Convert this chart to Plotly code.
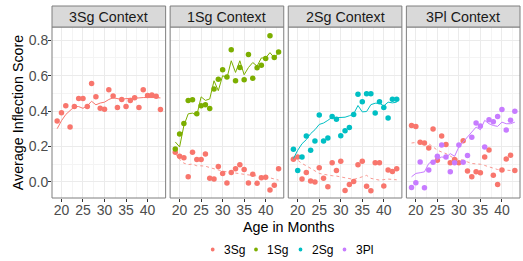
import plotly.graph_objects as go
from plotly.subplots import make_subplots

months = list(range(19, 44))
contexts = ["3Sg Context", "1Sg Context", "2Sg Context", "3Pl Context"]
series_names = ["3Sg", "1Sg", "2Sg", "3Pl"]
colors = {"3Sg": "#F8766D", "1Sg": "#7CAE00", "2Sg": "#00BFC4", "3Pl": "#C77CFF"}

# 3Sg context
ctx3sg_3sg_pts = [0.343, 0.39, 0.43, 0.31, 0.425, 0.47, 0.47, 0.425, 0.555, 0.48, 0.415, 0.41, 0.52,
                  0.485, 0.42, 0.465, 0.425, 0.46, 0.475, 0.42, 0.52, 0.487, 0.49, 0.483, 0.408]
ctx3sg_3sg_fit = [0.30, 0.345, 0.38, 0.40, 0.425, 0.425, 0.415, 0.43, 0.455, 0.435, 0.445, 0.45, 0.465,
                  0.475, 0.47, 0.465, 0.47, 0.47, 0.472, 0.474, 0.476, 0.477, 0.478, 0.476, 0.474]

# 1Sg context
ctx1sg_1sg_pts = [0.185, 0.27, 0.33, 0.46, 0.463, 0.384, 0.43, 0.435, 0.414, 0.525, 0.579, 0.633, 0.592,
                  0.746, 0.571, 0.646, 0.577, 0.72, 0.585, 0.644, 0.658, 0.697, 0.826, 0.703, 0.733]
ctx1sg_1sg_fit = [0.225, 0.197, 0.318, 0.384, 0.388, 0.375, 0.48, 0.46, 0.468, 0.571, 0.515, 0.60, 0.586,
                  0.684, 0.618, 0.684, 0.605, 0.646, 0.674, 0.654, 0.70, 0.70, 0.73, 0.70, 0.73]
ctx1sg_3sg_pts = [0.167, 0.144, 0.135, 0.028, 0.167, 0.126, 0.126, 0.157, 0.02, 0.015, 0.086, 0.047, -0.007,
                  0.052, 0.073, 0.096, 0.069, -0.007, 0.043, -0.009, 0.022, 0.026, -0.047, -0.02, 0.073]
ctx1sg_3sg_fit = [0.16, 0.126, 0.105, 0.097, 0.10, 0.09, 0.09, 0.088, 0.08, 0.072, 0.065, 0.06, 0.056,
                  0.052, 0.047, 0.044, 0.04, 0.037, 0.035, 0.033, 0.031, 0.028, 0.022, 0.016, 0.009]

# 2Sg context
ctx2sg_2sg_pts = [0.184, 0.064, 0.14, 0.259, 0.178, 0.23, 0.377, 0.23, 0.247, 0.369, 0.354, 0.26, 0.289,
                  0.307, 0.38, 0.495, 0.452, 0.497, 0.498, 0.388, 0.452, 0.42, 0.36, 0.467, 0.467]
ctx2sg_2sg_fit = [0.131, 0.178, 0.215, 0.238, 0.272, 0.294, 0.324, 0.332, 0.347, 0.365, 0.362, 0.362, 0.365,
                  0.373, 0.384, 0.431, 0.395, 0.397, 0.436, 0.444, 0.444, 0.429, 0.45, 0.446, 0.45]
ctx2sg_3sg_pts = [0.127, 0.14, 0.015, 0.052, 0.004, -0.002, 0.079, 0.02, -0.028, 0.107, 0.064, 0.116, -0.049,
                  -0.015, 0.002, 0.096, 0.116, -0.026, -0.051, 0.107, 0.107, -0.024, 0.066, 0.058, 0.073]
ctx2sg_3sg_fit = [0.14, 0.12, 0.103, 0.09, 0.075, 0.06, 0.047, 0.042, 0.037, 0.034, 0.032, 0.028, 0.024,
                  0.018, 0.013, 0.02, 0.028, 0.036, 0.019, 0.014, 0.009, 0.012, 0.015, 0.013, 0.011]

# 3Pl context
ctx3pl_3pl_pts = [-0.032, -0.006, 0.112, -0.034, 0.066, 0.11, 0.144, 0.208, 0.14, 0.056, 0.107, 0.208, 0.11,
                  0.148, 0.251, 0.332, 0.315, 0.197, 0.35, 0.339, 0.369, 0.408, 0.292, 0.348, 0.399]
ctx3pl_3pl_fit = [0.028, 0.047, 0.051, 0.056, 0.103, 0.118, 0.126, 0.14, 0.137, 0.159, 0.144, 0.197, 0.225,
                  0.253, 0.275, 0.309, 0.294, 0.347, 0.328, 0.318, 0.313, 0.337, 0.328, 0.328, 0.337]
ctx3pl_3sg_pts = [0.318, 0.313, 0.223, 0.219, 0.191, 0.298, 0.122, 0.259, 0.21, 0.107, 0.126, 0.107, 0.232,
                  0.06, 0.028, 0.056, 0.051, 0.14, 0.18, 0.036, -0.015, 0.066, 0.129, 0.15, 0.064]
ctx3pl_3sg_fit = [0.219, 0.222, 0.225, 0.22, 0.215, 0.197, 0.178, 0.168, 0.159, 0.145, 0.131, 0.126, 0.122,
                  0.112, 0.103, 0.101, 0.099, 0.092, 0.084, 0.076, 0.069, 0.067, 0.066, 0.064, 0.062]

panels = [
    [("3Sg", ctx3sg_3sg_pts, ctx3sg_3sg_fit, "solid")],
    [("3Sg", ctx1sg_3sg_pts, ctx1sg_3sg_fit, "dash"), ("1Sg", ctx1sg_1sg_pts, ctx1sg_1sg_fit, "solid")],
    [("3Sg", ctx2sg_3sg_pts, ctx2sg_3sg_fit, "dash"), ("2Sg", ctx2sg_2sg_pts, ctx2sg_2sg_fit, "solid")],
    [("3Sg", ctx3pl_3sg_pts, ctx3pl_3sg_fit, "dash"), ("3Pl", ctx3pl_3pl_pts, ctx3pl_3pl_fit, "solid")],
]

W, H = 523, 261
ml, mr, mt, mb = 52, 3, 27, 63
pw = W - ml - mr
ph = H - mt - mb
gap = 4.5 / pw
strip_h = 21


def px_x(p):
    return (p - ml) / pw


def px_y(p):
    return (H - mb - p) / ph


fig = make_subplots(rows=1, cols=4, shared_yaxes=True, horizontal_spacing=gap)

for ci, traces in enumerate(panels):
    for name, pts, fit, dash in traces:
        fig.add_trace(go.Scatter(x=months, y=fit, mode="lines",
                                 line=dict(color=colors[name], width=1,
                                           dash="3px,3px" if dash == "dash" else "solid"),
                                 opacity=0.75 if dash != "solid" else 1.0,
                                 showlegend=False, hoverinfo="skip"), row=1, col=ci + 1)
        fig.add_trace(go.Scatter(x=months, y=pts, mode="markers",
                                 marker=dict(color=colors[name], size=5.5),
                                 name=name, showlegend=False), row=1, col=ci + 1)

grid_c = "#EBEBEB"
for ci in range(4):
    fig.update_xaxes(range=[17.8, 44.2], tickvals=[20, 25, 30, 35, 40],
                     showgrid=True, gridcolor=grid_c, gridwidth=1,
                     minor=dict(tickvals=[17.5, 22.5, 27.5, 32.5, 37.5, 42.5], showgrid=True,
                                gridcolor="#F4F4F4", gridwidth=0.6, ticks=""),
                     ticks="outside", ticklen=3, tickcolor="#333333",
                     tickfont=dict(size=14, color="#4D4D4D"), ticklabelstandoff=-4,
                     showline=False, zeroline=False, row=1, col=ci + 1)
    fig.update_yaxes(range=[-0.092, 0.875], tickvals=[0, 0.2, 0.4, 0.6, 0.8],
                     ticktext=["0.0", "0.2", "0.4", "0.6", "0.8"],
                     showgrid=True, gridcolor=grid_c, gridwidth=1,
                     minor=dict(tickvals=[0.1, 0.3, 0.5, 0.7], showgrid=True,
                                gridcolor="#F4F4F4", gridwidth=0.6, ticks=""),
                     zeroline=False, showline=False, row=1, col=ci + 1)
    xr = "x domain" if ci == 0 else f"x{ci + 1} domain"
    yr = "y domain" if ci == 0 else f"y{ci + 1} domain"
    fig.add_shape(type="rect", xref=xr, yref=yr, x0=0, x1=1, y0=0, y1=1,
                  line=dict(color="#7F7F7F", width=1), fillcolor="rgba(0,0,0,0)", layer="above")
    fig.add_shape(type="rect", xref=xr, yref=yr, x0=0, x1=1, y0=1, y1=1 + strip_h / ph,
                  line=dict(color="#7F7F7F", width=1), fillcolor="#D9D9D9", layer="above")
    fig.add_annotation(xref=xr, yref=yr, x=0.5, y=1 + (strip_h / 2) / ph, text=contexts[ci],
                       showarrow=False, font=dict(size=14.3, color="#1A1A1A"),
                       xanchor="center", yanchor="middle")

fig.update_yaxes(ticks="outside", ticklen=3, tickcolor="#333333",
                 tickfont=dict(size=14, color="#4D4D4D"), ticklabelstandoff=-3, row=1, col=1)
fig.update_yaxes(title=dict(text="Average Inflection Score", font=dict(size=14.3, color="#000000"),
                            standoff=1), row=1, col=1)
for ci in range(1, 4):
    fig.update_yaxes(showticklabels=False, ticks="", row=1, col=ci + 1)

fig.add_annotation(xref="paper", yref="paper", x=px_x(288), y=px_y(227),
                   text="Age in Months", showarrow=False,
                   font=dict(size=14.3, color="#000000"), xanchor="center", yanchor="middle")

# manual legend (ggplot-style compact horizontal legend)
legend_marker_px = [212.7, 256, 300.5, 344.5]
for name, mx in zip(series_names, legend_marker_px):
    fig.add_shape(type="circle", xref="paper", yref="paper",
                  xsizemode="pixel", ysizemode="pixel",
                  xanchor=px_x(mx), yanchor=px_y(249.5),
                  x0=-1.9, x1=1.9, y0=-1.9, y1=1.9,
                  fillcolor=colors[name], line=dict(width=0))
    fig.add_annotation(xref="paper", yref="paper", x=px_x(mx + 9), y=px_y(249.5),
                       text=name, showarrow=False, xanchor="left", yanchor="middle",
                       font=dict(size=12, color="#000000"))

fig.update_layout(
    width=W, height=H,
    margin=dict(l=ml, r=mr, t=mt, b=mb, autoexpand=False),
    paper_bgcolor="white", plot_bgcolor="white",
    font=dict(family="Liberation Sans, Arial, sans-serif"),
    showlegend=False,
)

fig.write_html("out.html", config={"displayModeBar": False},
               post_script="document.body.style.margin='0';document.body.style.padding='0';")
